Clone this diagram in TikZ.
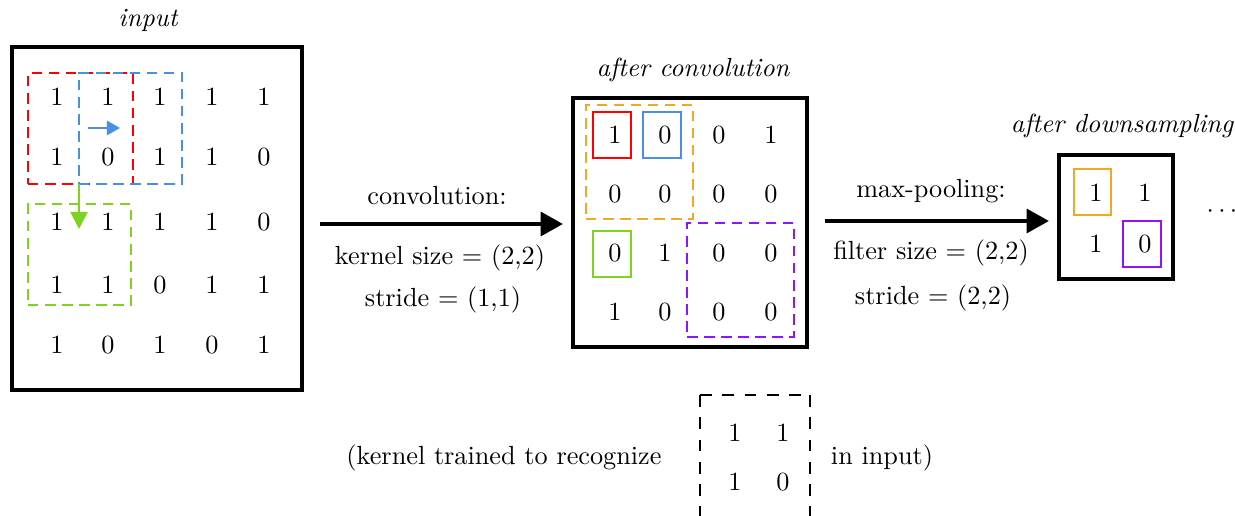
\documentclass[tikz,border=0pt]{standalone}
\usetikzlibrary{arrows.meta,fit}
\definecolor{cred}{RGB}{255,0,0}
\definecolor{cblue}{RGB}{74,144,226}
\definecolor{cgreen}{RGB}{126,211,33}
\definecolor{corange}{RGB}{245,166,35}
\definecolor{cpurple}{RGB}{144,19,254}
\tikzset{
  num/.style={inner sep=0pt},
  bigbox/.style={draw=black,line width=1.6pt,inner sep=0pt},
  dbox/.style={draw=#1,line width=0.6pt,dash pattern=on 4pt off 2.5pt,inner sep=0pt},
  sbox/.style={draw=#1,line width=0.6pt,inner sep=0pt},
  mainarrow/.style={line width=1.6pt,-{Triangle[length=8.5pt,width=9pt]}},
  lbl/.style={inner sep=0pt},
}
\begin{document}
\begin{tikzpicture}[x=0.0134cm,y=-0.0134cm]
\useasboundingbox (0,0) rectangle (1235,516);
% input grid
\foreach \r/\y [count=\i] in {1/97,2/157,3/222,4/285,5/345}{
  \foreach \x [count=\j] in {57,108,160,212,264}{
    \coordinate (in-\i-\j) at (\x,\y);
  }
}
\node[num] at (in-1-1) {1};\node[num] at (in-1-2) {1};\node[num] at (in-1-3) {1};\node[num] at (in-1-4) {1};\node[num] at (in-1-5) {1};
\node[num] at (in-2-1) {1};\node[num] at (in-2-2) {0};\node[num] at (in-2-3) {1};\node[num] at (in-2-4) {1};\node[num] at (in-2-5) {0};
\node[num] at (in-3-1) {1};\node[num] at (in-3-2) {1};\node[num] at (in-3-3) {1};\node[num] at (in-3-4) {1};\node[num] at (in-3-5) {0};
\node[num] at (in-4-1) {1};\node[num] at (in-4-2) {1};\node[num] at (in-4-3) {0};\node[num] at (in-4-4) {1};\node[num] at (in-4-5) {1};
\node[num] at (in-5-1) {1};\node[num] at (in-5-2) {0};\node[num] at (in-5-3) {1};\node[num] at (in-5-4) {0};\node[num] at (in-5-5) {1};
\coordinate (inA) at (12,47); \coordinate (inB) at (302,390);
\node[bigbox,fit=(inA)(inB)] (inbox) {};
\node[lbl] (inlbl) at (148,20) {\itshape input};
% input windows
\coordinate (rA) at (28,73); \coordinate (rB) at (133,184);
\coordinate (bA) at (79,73); \coordinate (bB) at (182,184);
\coordinate (gA) at (28,204); \coordinate (gB) at (131,305);
\node[dbox=cred,fit=(rA)(rB)] (redwin) {};
\node[dbox=cblue,fit=(bA)(bB)] (bluewin) {};
\node[dbox=cgreen,fit=(gA)(gB)] (greenwin) {};
\coordinate (bs) at (88,128); \coordinate (be) at (120,128);
\draw[cblue,line width=0.8pt,-{Triangle[length=5pt,width=5.5pt]}] (bs) -- (be);
\coordinate (gs) at (79,184); \coordinate (ge) at (79,229);
\draw[cgreen,line width=0.8pt,-{Triangle[length=6.5pt,width=6.5pt]}] (gs) -- (ge);
% conv grid
\foreach \y [count=\i] in {135,194,253,312}{
  \foreach \x [count=\j] in {615,665,719,771}{
    \coordinate (cv-\i-\j) at (\x,\y);
  }
}
\node[num] at (cv-1-1) {1};\node[num] at (cv-1-2) {0};\node[num] at (cv-1-3) {0};\node[num] at (cv-1-4) {1};
\node[num] at (cv-2-1) {0};\node[num] at (cv-2-2) {0};\node[num] at (cv-2-3) {0};\node[num] at (cv-2-4) {0};
\node[num] at (cv-3-1) {0};\node[num] at (cv-3-2) {1};\node[num] at (cv-3-3) {0};\node[num] at (cv-3-4) {0};
\node[num] at (cv-4-1) {1};\node[num] at (cv-4-2) {0};\node[num] at (cv-4-3) {0};\node[num] at (cv-4-4) {0};
\coordinate (cA) at (573,98); \coordinate (cB) at (807,347);
\node[bigbox,fit=(cA)(cB)] (convbox) {};
\node[lbl] (cvlbl) at (693,70) {\itshape after convolution};
\coordinate (oA) at (586,105); \coordinate (oB) at (693,219);
\coordinate (pA) at (687,223); \coordinate (pB) at (794,337);
\node[dbox=corange,fit=(oA)(oB)] (orangewin) {};
\node[dbox=cpurple,fit=(pA)(pB)] (purplewin) {};
\coordinate (r1) at (593,112); \coordinate (r2) at (631,158);
\coordinate (b1) at (643,112); \coordinate (b2) at (681,158);
\coordinate (g1) at (593,231); \coordinate (g2) at (631,277);
\node[sbox=cred,fit=(r1)(r2)] (redcell) {};
\node[sbox=cblue,fit=(b1)(b2)] (bluecell) {};
\node[sbox=cgreen,fit=(g1)(g2)] (greencell) {};
% downsampled
\coordinate (ds-1-1) at (1096,193); \coordinate (ds-1-2) at (1145,193);
\coordinate (ds-2-1) at (1096,244); \coordinate (ds-2-2) at (1145,244);
\node[num] at (ds-1-1) {1};\node[num] at (ds-1-2) {1};
\node[num] at (ds-2-1) {1};\node[num] at (ds-2-2) {0};
\coordinate (dA) at (1059,155); \coordinate (dB) at (1173,279);
\node[bigbox,fit=(dA)(dB)] (dsbox) {};
\node[lbl] (dslbl) at (1122,126) {\itshape after downsampling};
\coordinate (o1) at (1074,169); \coordinate (o2) at (1111,215);
\coordinate (p1) at (1123,221); \coordinate (p2) at (1161,267);
\node[sbox=corange,fit=(o1)(o2)] (orangecell) {};
\node[sbox=cpurple,fit=(p1)(p2)] (purplecell) {};
\node[lbl] (dots) at (1222,212) {$\cdots$};
% arrows
\coordinate (a1s) at (320,224); \coordinate (a1e) at (563,224);
\draw[mainarrow] (a1s) -- (a1e);
\node[lbl] (l1a) at (437,196) {convolution:};
\node[lbl] (l1b) at (440,258) {kernel size $=$ (2,2)};
\node[lbl] (l1c) at (443,300) {stride $=$ (1,1)};
\coordinate (a2s) at (825,221); \coordinate (a2e) at (1049,221);
\draw[mainarrow] (a2s) -- (a2e);
\node[lbl] (l2a) at (931,191) {max-pooling:};
\node[lbl] (l2b) at (931,253) {filter size $=$ (2,2)};
\node[lbl] (l2c) at (933,298) {stride $=$ (2,2)};
% bottom
\node[lbl] (kt1) at (504,458) {(kernel trained to recognize};
\node[lbl] (kt2) at (882,458) {in input)};
\node[num] (k11) at (735,433) {1};\node[num] (k12) at (783,433) {1};
\node[num] (k21) at (735,482) {1};\node[num] (k22) at (783,482) {0};
\coordinate (kA) at (700,520); \coordinate (kB) at (700,395); \coordinate (kC) at (810,395); \coordinate (kD) at (810,520);
\draw[line width=0.8pt,dash pattern=on 4.5pt off 4pt] (kB) -- (kC);
\draw[line width=0.8pt,dash pattern=on 4.5pt off 4pt] (kB) -- (kA);
\draw[line width=0.8pt,dash pattern=on 4.5pt off 4pt] (kC) -- (kD);
\end{tikzpicture}
\end{document}
